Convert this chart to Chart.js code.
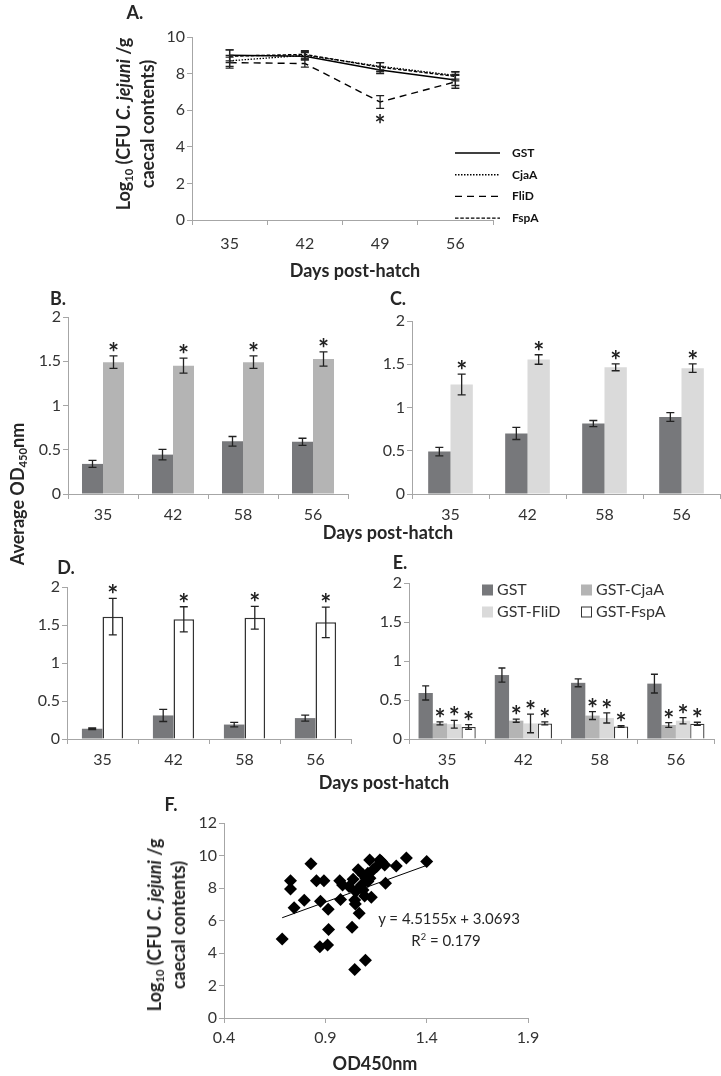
<!DOCTYPE html>
<html><head><meta charset="utf-8">
<script src="https://cdn.jsdelivr.net/npm/chart.js@4.4.1/dist/chart.umd.min.js"></script>
<style>
html,body{margin:0;padding:0;background:#fff;}
#wrap{position:relative;width:721px;height:1076px;overflow:hidden;font-family:Lato,'Open Sans',sans-serif;color:#262626;}
canvas{position:absolute;left:0;top:0;}
.t{position:absolute;transform:translate(-50%,-50%);white-space:nowrap;}
.b{font-weight:bold;font-size:18px;}
.rot{transform:translate(-50%,-50%) rotate(-90deg);text-align:center;line-height:24px;}
sub{font-size:0.62em;line-height:0;vertical-align:-0.25em;}
sup{font-size:0.62em;line-height:0;}
.eq{font-size:15px;color:#262626;}
</style></head>
<body><div id="wrap">
<canvas id="cA" width="721" height="1076"></canvas>
<canvas id="cB" width="721" height="1076"></canvas>
<canvas id="cC" width="721" height="1076"></canvas>
<canvas id="cD" width="721" height="1076"></canvas>
<canvas id="cE" width="721" height="1076"></canvas>
<canvas id="cF" width="721" height="1076"></canvas>

<div class="t b" style="left:135px;top:12px">A.</div>
<div class="t b rot" style="left:135px;top:124px">Log<sub>10</sub> (CFU <i>C. jejuni</i> /g<br>caecal contents)</div>
<div class="t b" style="left:355px;top:270px">Days post-hatch</div>
<div class="t b" style="left:58px;top:298px">B.</div>
<div class="t b" style="left:398px;top:298px">C.</div>
<div class="t b rot" style="left:17px;top:494px">Average OD<sub>450</sub>nm</div>
<div class="t b" style="left:388px;top:532px">Days post-hatch</div>
<div class="t b" style="left:66px;top:567px">D.</div>
<div class="t b" style="left:400px;top:562px">E.</div>
<div class="t b" style="left:384px;top:782px">Days post-hatch</div>
<div class="t b" style="left:171px;top:804px">F.</div>
<div class="t b rot" style="left:166px;top:925px">Log<sub>10</sub> (CFU <i>C. jejuni</i> /g<br>caecal contents)</div>
<div class="t b" style="left:375px;top:1063px">OD450nm</div>
<div class="t eq" style="left:449px;top:918px">y = 4.5155x + 3.0693</div>
<div class="t eq" style="left:446px;top:940px">R<sup>2</sup> = 0.179</div>
</div>
<script>
// ---------- DATA ----------
const daysA = ['35','42','49','56'];
const gstA = [9.0, 8.95, 8.2, 7.65];
const gstAErr = [0.3, 0.2, 0.2, 0.3];
const cjaA = [8.7, 9.0, 8.4, 7.9];
const cjaAErr = [0.3, 0.2, 0.2, 0.2];
const fliDA = [8.6, 8.55, 6.45, 7.55];
const fliDAErr = [0.3, 0.2, 0.35, 0.35];
const fspAA = [8.95, 9.05, 8.35, 7.85];
const fspAAErr = [0.35, 0.2, 0.25, 0.25];
const starFliDA = [0, 0, -1, 0];

const daysBar = ['35','42','58','56'];
const gstB = [0.34, 0.445, 0.595, 0.59];
const gstBErr = [0.04, 0.06, 0.055, 0.04];
const cjaB = [1.49, 1.45, 1.49, 1.525];
const cjaBErr = [0.07, 0.085, 0.07, 0.08];

const gstC = [0.49, 0.70, 0.815, 0.89];
const gstCErr = [0.05, 0.07, 0.035, 0.05];
const fliDC = [1.265, 1.555, 1.465, 1.455];
const fliDCErr = [0.12, 0.055, 0.04, 0.05];

const gstD = [0.135, 0.31, 0.19, 0.275];
const gstDErr = [0.01, 0.08, 0.03, 0.04];
const fspAD = [1.61, 1.575, 1.595, 1.535];
const fspADErr = [0.24, 0.165, 0.15, 0.2];

const gstE = [0.59, 0.82, 0.72, 0.71];
const gstEErr = [0.09, 0.09, 0.05, 0.12];
const cjaE = [0.2, 0.235, 0.30, 0.18];
const cjaEErr = [0.02, 0.02, 0.05, 0.03];
const fliDE = [0.19, 0.20, 0.27, 0.235];
const fliDEErr = [0.05, 0.12, 0.065, 0.04];
const fspAE = [0.155, 0.2, 0.16, 0.195];
const fspAEErr = [0.03, 0.02, 0.01, 0.02];
const starsAll = [1, 1, 1, 1];

const odF = [0.687,0.728,0.728,0.746,0.796,0.829,0.856,0.893,0.876,0.914,0.916,0.873,0.911,0.971,0.985,0.975,1.017,1.037,1.045,1.048,1.067,1.032,1.045,1.098,1.062,1.086,1.078,1.086,1.094,1.11,1.127,1.119,1.136,1.11,1.153,1.169,1.177,1.193,1.197,1.25,1.30,1.40,1.10,1.12,1.05];
const cfuF = [4.86,8.44,7.94,6.79,7.24,9.5,8.44,8.44,7.18,6.69,5.45,4.38,4.49,8.44,8.19,7.30,8.09,8.54,7.26,7.02,6.44,5.58,2.98,3.56,9.12,8.81,8.19,7.88,7.51,8.40,7.43,9.73,9.12,8.91,9.32,9.73,9.63,9.42,8.29,9.36,9.84,9.63,8.6,8.6,7.78];
const trendX = [0.687, 1.40];
const trendY = [6.17, 9.39];

// ---------- STYLE ----------
Chart.defaults.font.family = 'Lato, "Open Sans", sans-serif';
Chart.defaults.color = '#333';
const AX = '#a6a6a6';
const DARK = '#77787b', LIGHT = '#b4b4b4', PALE = '#dadada';
const W = 721, H = 1076;
const fmt = v => String(+Number(v).toFixed(2));

const errPlugin = {
  id: 'errbars',
  afterDatasetsDraw(chart) {
    const ctx = chart.ctx, ys = chart.scales.y;
    chart.data.datasets.forEach((ds, i) => {
      if (!ds.errors) return;
      const meta = chart.getDatasetMeta(i);
      meta.data.forEach((el, j) => {
        const v = ds.data[j], e = ds.errors[j];
        const x = el.x, yt = ys.getPixelForValue(v + e), yb = ys.getPixelForValue(v - e);
        const cw = ds.capW || 4;
        ctx.save();
        ctx.strokeStyle = '#222'; ctx.lineWidth = 1.3; ctx.setLineDash([]);
        ctx.beginPath();
        ctx.moveTo(x, yt); ctx.lineTo(x, yb);
        ctx.moveTo(x - cw, yt); ctx.lineTo(x + cw, yt);
        ctx.moveTo(x - cw, yb); ctx.lineTo(x + cw, yb);
        ctx.stroke();
        if (ds.stars && ds.stars[j]) {
          ctx.fillStyle = '#222';
          ctx.font = 'bold 26px Lato, sans-serif';
          ctx.textAlign = 'center'; ctx.textBaseline = 'alphabetic';
          if (ds.stars[j] > 0) ctx.fillText('*', x, yt + 6);
          else ctx.fillText('*', x, yb + 26);
        }
        ctx.restore();
      });
    });
  }
};

function axes(area, opts) {
  const yW = 45, xH = 40;
  return {
    padding: { left: area.L - yW, top: area.T, right: W - area.R, bottom: H - area.B - xH },
    scales: {
      x: Object.assign({
        offset: true,
        grid: { display: true, offset: true, drawOnChartArea: false, drawTicks: true, tickLength: 5, color: AX },
        border: { display: true, color: AX },
        ticks: { font: { size: 16 }, padding: opts.xPad, maxRotation: 0, color: '#333' },
        afterFit: s => { s.height = xH; }
      }, opts.x || {}),
      y: Object.assign({
        min: opts.ymin, max: opts.ymax,
        grid: { display: true, drawOnChartArea: false, drawTicks: true, tickLength: 5, color: AX },
        border: { display: true, color: AX },
        ticks: { stepSize: opts.step, font: { size: 16 }, padding: 2, color: '#333', callback: fmt },
        afterFit: s => { s.width = yW; }
      }, opts.y || {})
    }
  };
}

function barChart(id, area, labels, datasets, extraPlugins, catPct) {
  const a = axes(area, { ymin: 0, ymax: 2, step: 0.5, xPad: 6 });
  return new Chart(document.getElementById(id), {
    type: 'bar',
    data: { labels, datasets },
    options: {
      responsive: false, animation: false, events: [],
      layout: { padding: a.padding },
      datasets: { bar: { categoryPercentage: catPct, barPercentage: 1 } },
      plugins: { legend: { display: false }, tooltip: { enabled: false } },
      scales: a.scales
    },
    plugins: [errPlugin].concat(extraPlugins || [])
  });
}

// ---------- A ----------
const legendA = {
  id: 'legendA',
  afterDraw(chart) {
    const ctx = chart.ctx;
    chart.data.datasets.forEach((ds, i) => {
      const y = 153 + i * 21.7;
      ctx.save();
      ctx.strokeStyle = '#000'; ctx.lineWidth = 1.4;
      ctx.setLineDash(ds.borderDash || []);
      ctx.beginPath(); ctx.moveTo(455, y); ctx.lineTo(500, y); ctx.stroke();
      ctx.setLineDash([]);
      ctx.fillStyle = '#111'; ctx.font = 'bold 12px Lato, sans-serif';
      ctx.textBaseline = 'middle'; ctx.textAlign = 'left';
      ctx.fillText(ds.label, 512, y);
      ctx.restore();
    });
  }
};
const aA = axes({ L: 192, R: 493, T: 37, B: 220 }, { ymin: 0, ymax: 10, step: 2, xPad: 9 });
new Chart(document.getElementById('cA'), {
  type: 'line',
  data: {
    labels: daysA,
    datasets: [
      { label: 'GST', data: gstA, errors: gstAErr, borderColor: '#000', borderWidth: 1.6, pointRadius: 0, capW: 4 },
      { label: 'CjaA', data: cjaA, errors: cjaAErr, borderColor: '#000', borderWidth: 1.3, borderDash: [1.5, 1.5], pointRadius: 0, capW: 4 },
      { label: 'FliD', data: fliDA, errors: fliDAErr, stars: starFliDA, borderColor: '#000', borderWidth: 1.4, borderDash: [7, 5], pointRadius: 0, capW: 4 },
      { label: 'FspA', data: fspAA, errors: fspAAErr, borderColor: '#000', borderWidth: 1.4, borderDash: [3.5, 1.8], pointRadius: 0, capW: 4 }
    ]
  },
  options: {
    responsive: false, animation: false, events: [],
    layout: { padding: aA.padding },
    plugins: { legend: { display: false }, tooltip: { enabled: false } },
    scales: aA.scales
  },
  plugins: [errPlugin, legendA]
});

// ---------- B ----------
barChart('cB', { L: 68, R: 348, T: 317, B: 494 }, daysBar, [
  { label: 'GST', data: gstB, errors: gstBErr, backgroundColor: DARK },
  { label: 'GST-CjaA', data: cjaB, errors: cjaBErr, stars: starsAll, backgroundColor: LIGHT }
], [], 0.6);

// ---------- C ----------
barChart('cC', { L: 412, R: 720, T: 321, B: 494 }, daysBar, [
  { label: 'GST', data: gstC, errors: gstCErr, backgroundColor: DARK },
  { label: 'GST-FliD', data: fliDC, errors: fliDCErr, stars: starsAll, backgroundColor: PALE }
], [], 0.58);

// ---------- D ----------
barChart('cD', { L: 67, R: 351, T: 587, B: 739 }, daysBar, [
  { label: 'GST', data: gstD, errors: gstDErr, backgroundColor: DARK },
  { label: 'GST-FspA', data: fspAD, errors: fspADErr, stars: starsAll, backgroundColor: '#fff', borderColor: '#333', borderWidth: 1.5 }
], [], 0.58);

// ---------- E ----------
const legendE = {
  id: 'legendE',
  afterDraw(chart) {
    const ctx = chart.ctx;
    const pos = [[482, 590], [581, 590], [482, 612], [581, 612]];
    chart.data.datasets.forEach((ds, i) => {
      const [x, y] = pos[i];
      ctx.save();
      ctx.fillStyle = ds.backgroundColor;
      ctx.fillRect(x, y - 5.5, 11, 11);
      if (ds.borderWidth) { ctx.strokeStyle = '#333'; ctx.lineWidth = 1; ctx.strokeRect(x + 0.5, y - 5, 10, 10); }
      ctx.fillStyle = '#333'; ctx.font = '16px Lato, sans-serif';
      ctx.textBaseline = 'middle'; ctx.textAlign = 'left';
      ctx.fillText(ds.label, x + 15, y);
      ctx.restore();
    });
  }
};
barChart('cE', { L: 409, R: 714, T: 583, B: 739 }, daysBar, [
  { label: 'GST', data: gstE, errors: gstEErr, backgroundColor: DARK, capW: 3.5 },
  { label: 'GST-CjaA', data: cjaE, errors: cjaEErr, stars: starsAll, backgroundColor: LIGHT, capW: 3.5 },
  { label: 'GST-FliD', data: fliDE, errors: fliDEErr, stars: starsAll, backgroundColor: PALE, capW: 3.5 },
  { label: 'GST-FspA', data: fspAE, errors: fspAEErr, stars: starsAll, backgroundColor: '#fff', borderColor: '#333', borderWidth: 1.3, capW: 3.5 }
], [legendE], 0.75);

// ---------- F ----------
const aF = axes({ L: 224, R: 528, T: 823, B: 1018 }, {
  ymin: 0, ymax: 12, step: 2, xPad: 5,
  x: { type: 'linear', offset: false, min: 0.4, max: 1.9,
       grid: { display: true, drawOnChartArea: false, drawTicks: true, tickLength: 5, color: AX } }
});
aF.scales.x.ticks.stepSize = 0.5;
aF.scales.x.ticks.callback = fmt;
new Chart(document.getElementById('cF'), {
  type: 'scatter',
  data: {
    datasets: [
      { label: 'OD vs CFU', data: odF.map((x, i) => ({ x, y: cfuF[i] })), pointStyle: 'rectRot', pointRadius: 6.5, backgroundColor: '#000', borderColor: '#000', borderWidth: 0 },
      { label: 'Linear', type: 'line', data: trendX.map((x, i) => ({ x, y: trendY[i] })), showLine: true, borderColor: '#000', borderWidth: 1, pointRadius: 0 }
    ]
  },
  options: {
    responsive: false, animation: false, events: [],
    layout: { padding: aF.padding },
    plugins: { legend: { display: false }, tooltip: { enabled: false } },
    scales: aF.scales
  }
});
</script>
</body></html>
